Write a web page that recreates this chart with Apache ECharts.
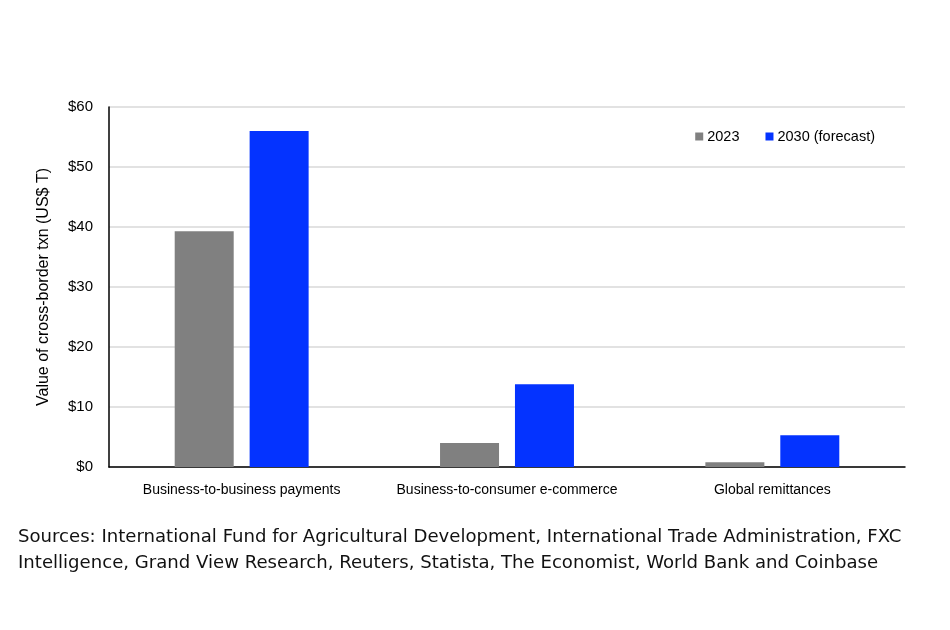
<!DOCTYPE html>
<html><head><meta charset="utf-8">
<script src="https://cdn.jsdelivr.net/npm/echarts@6/dist/echarts.min.js"></script>
<style>html,body{margin:0;padding:0;background:#fff}#c{width:950px;height:630px}</style>
</head><body><div id="c"></div>
<script>
const categories = ["Business-to-business payments", "Business-to-consumer e-commerce", "Global remittances"];
const values2023 = [39.3, 4.0, 0.8];
const values2030 = [56.0, 13.8, 5.3];
const seriesNames = ["2023", "2030 (forecast)"];
const yTicks = { min: 0, max: 60, interval: 10 };
const sourceText = "Sources: International Fund for Agricultural Development, International Trade Administration, FXC\nIntelligence, Grand View Research, Reuters, Statista, The Economist, World Bank and Coinbase";

const narrow = '"Liberation Sans Narrow", "Arial Narrow", "Liberation Sans", sans-serif';
const chart = echarts.init(document.getElementById('c'));
chart.setOption({
  backgroundColor: '#fff',
  animation: false,
  grid: { left: 109, right: 45, top: 107, bottom: 163, containLabel: false },
  legend: {
    right: 70, top: 124, itemWidth: 8, itemHeight: 8, itemGap: 26,
    icon: 'rect',
    textStyle: { fontFamily: narrow, fontSize: 14.5, color: '#000', padding: [0,0,0,-1] },
    data: seriesNames
  },
  xAxis: {
    type: 'category', data: categories,
    axisLine: { lineStyle: { color: '#000', width: 1.5 } },
    axisTick: { show: false },
    axisLabel: { fontFamily: narrow, fontSize: 14, color: '#000', margin: 16, interval: 0 }
  },
  yAxis: {
    type: 'value', min: yTicks.min, max: yTicks.max, interval: yTicks.interval,
    name: 'Value of cross-border txn (US$ T)', nameLocation: 'middle', nameGap: 57,
    nameTextStyle: { fontFamily: narrow, fontSize: 16, color: '#000' },
    axisLine: { show: true, lineStyle: { color: '#000', width: 1.5 } },
    axisTick: { show: false },
    axisLabel: { fontFamily: narrow, fontSize: 15, color: '#000', margin: 16, formatter: v => '$' + v },
    splitLine: { lineStyle: { color: '#d9d9d9', width: 1.5 } }
  },
  series: [
    { name: seriesNames[0], type: 'bar', data: values2023, barWidth: 59, barGap: '27%', itemStyle: { color: '#808080' } },
    { name: seriesNames[1], type: 'bar', data: values2030, barWidth: 59, itemStyle: { color: '#0433ff' } }
  ],
  graphic: [{
    type: 'text', left: 18, top: 524,
    style: { text: sourceText, fontFamily: '"DejaVu Sans", sans-serif', fontSize: 18.1, lineHeight: 26, fill: '#111' }
  }]
});
</script></body></html>
